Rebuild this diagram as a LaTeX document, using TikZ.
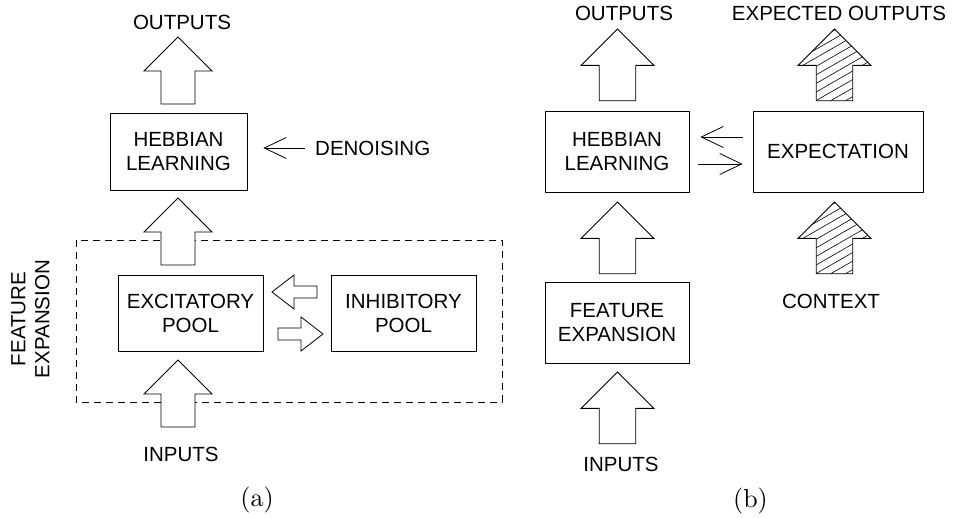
\documentclass[tikz,border=0pt]{standalone}
\usepackage{fontspec}
\newfontfamily\sansfont{Liberation Sans}
\newfontfamily\capfont{lmroman10-regular.otf}
\usetikzlibrary{arrows.meta}

\newcommand{\blockarrow}[3][fill=white]{%
	\draw[blockline, shift={(#2)}, rotate=#3, #1] (0,0) -- (34,34) -- (17,34) -- (17,67) -- (-17,67) -- (-17,34) -- (-34,34) -- cycle;}
\newcommand{\smallarrow}[2]{%
	\draw[blockline, fill=white, shift={(#1)}, rotate=#2] (0,0) -- (17,22) -- (6,22) -- (6,45) -- (-6,45) -- (-6,22) -- (-17,22) -- cycle;}
\newcommand{\hatcharrow}[1]{%
	\begin{scope}[shift={(#1)}, scale=1.07]
		\clip (0,0) -- (34,34) -- (17,34) -- (17,67) -- (-17,67) -- (-17,34) -- (-34,34) -- cycle;
		\foreach \k in {-1,...,14}
			\draw[hatchline] (-40,8*\k) -- (40,8*\k-46);
	\end{scope}
	\blockarrow[scale=1.07]{#1}{0}}

\tikzset{
	lbl/.style={font=\sansfont\fontsize{20.5}{24}\selectfont, align=center, inner sep=0pt},
	box/.style={draw, line width=0.8pt, font=\sansfont\fontsize{20.5}{24}\selectfont, align=center, inner sep=0pt},
	capt/.style={font=\capfont\fontsize{26}{30}\selectfont, inner sep=0pt},
	thinarr/.style={line width=0.8pt, -{Straight Barb[length=22pt,width=21pt]}},
	blockline/.style={line width=0.8pt, line join=miter},
	hatchline/.style={line width=0.6pt},
	featbox/.style={line width=0.8pt, dash pattern=on 7pt off 5pt}
}

\begin{document}
\begin{tikzpicture}[x=1pt, y=-1pt]
	\useasboundingbox (0,0) rectangle (954,518);

	% (a)
	\draw[featbox] (76,240) rectangle (502,402);
	\node[lbl, rotate=90] (feata) at (30.5,319) {FEATURE\\EXPANSION};

	\node[lbl] (outa) at (182,22) {OUTPUTS};
	\node[box, minimum width=137pt, minimum height=77pt] (hebba) at (178.5,151.5) {HEBBIAN\\LEARNING};
	\node[lbl, anchor=west] (denoise) at (315,148) {DENOISING};
	\draw[thinarr, shorten <=10pt, shorten >=16pt] (denoise.west) -- (hebba.east |- denoise.west);

	\node[box, minimum width=145pt, minimum height=76pt] (exc) at (190.5,313) {EXCITATORY\\POOL};
	\node[box, minimum width=145pt, minimum height=76pt] (inh) at (403.5,313) {INHIBITORY\\POOL};
	\node[lbl] (ina) at (181,454.5) {INPUTS};

	\blockarrow{178,37}{0}
	\blockarrow{178,198}{0}
	\blockarrow{178,360}{0}
	\smallarrow{272,292}{90}
	\smallarrow{323,334}{-90}

	\node[capt] (capa) at (257,500) {(a)};

	% (b)
	\node[lbl] (outb) at (624,13.5) {OUTPUTS};
	\node[lbl] (expout) at (839,13.5) {EXPECTED OUTPUTS};
	\node[box, minimum width=144pt, minimum height=81pt] (hebbb) at (617,151.5) {HEBBIAN\\LEARNING};
	\node[box, minimum width=170pt, minimum height=81pt] (expect) at (838,151.5) {EXPECTATION};
	\node[box, minimum width=144pt, minimum height=81pt] (feat) at (617,322.5) {FEATURE\\EXPANSION};
	\node[lbl] (context) at (831,301.5) {CONTEXT};
	\node[lbl] (inb) at (621,464.5) {INPUTS};

	\draw[thinarr, shorten <=10pt, shorten >=11pt] ([yshift=14.5pt]expect.west) -- ([yshift=14.5pt]hebbb.east);
	\draw[thinarr, shorten <=9pt, shorten >=10pt] ([yshift=-12.5pt]hebbb.east) -- ([yshift=-12.5pt]expect.west);

	\blockarrow[scale=1.07, fill=white]{617.5,29}{0}
	\blockarrow[scale=1.07, fill=white]{617.5,202}{0}
	\blockarrow[scale=1.07, fill=white]{617.5,372}{0}
	\hatcharrow{834.5,29}
	\hatcharrow{834.5,202}

	\node[capt] (capb) at (750.5,501) {(b)};

\end{tikzpicture}
\end{document}
